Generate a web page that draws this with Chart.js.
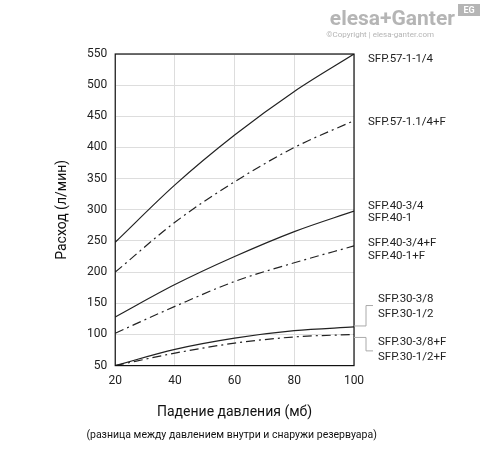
<!DOCTYPE html>
<html>
<head>
<meta charset="utf-8">
<script src="https://cdn.jsdelivr.net/npm/chart.js@4"></script>
<style>
  body { margin: 0; background: #fff; }
  #wrap { width: 488px; height: 454px; }
</style>
</head>
<body>
<div id="wrap"><canvas id="c"></canvas></div>
<script>
// данные графика
const pressure = [20, 40, 60, 80, 100];
const sfp57 = [248, 340, 420, 490, 550];
const sfp57F = [200, 280, 345, 400, 443];
const sfp40 = [128, 180, 225, 265, 298];
const sfp40F = [102, 145, 185, 215, 242];
const sfp30 = [50, 76, 94, 106, 112];
const sfp30F = [50, 70, 86, 96, 100];
const yTicks = [50, 100, 150, 200, 250, 300, 350, 400, 450, 500, 550];

// подписи справа: текст и уровень (в единицах оси Y)
const labelTexts = ['SFP.57-1-1/4', 'SFP.57-1.1/4+F', 'SFP.40-3/4', 'SFP.40-1', 'SFP.40-3/4+F', 'SFP.40-1+F',
  'SFP.30-3/8', 'SFP.30-1/2', 'SFP.30-3/8+F', 'SFP.30-1/2+F'];
const labelLevels = [541, 441, 306, 287, 247, 226, 156, 133, 87, 64];

const FONT = 'Roboto, "Liberation Sans", sans-serif';

function ds(data, dashed) {
  return {
    data: pressure.map((x, i) => ({ x: x, y: data[i] })),
    borderColor: '#222',
    borderWidth: 1.2,
    borderDash: dashed ? [9, 4, 2, 4] : [],
    pointRadius: 0,
    tension: 0.4,
    cubicInterpolationMode: 'monotone',
    fill: false
  };
}

const extras = {
  id: 'extras',
  afterDraw(chart) {
    const ctx = chart.ctx;
    const a = chart.chartArea;
    const ys = chart.scales.y;
    ctx.save();
    // рамка
    ctx.strokeStyle = '#111';
    ctx.lineWidth = 1.2;
    ctx.strokeRect(a.left, a.top, a.right - a.left, a.bottom - a.top);

    // подписи серий
    ctx.fillStyle = '#222';
    ctx.font = '11.5px ' + FONT;
    ctx.textBaseline = 'middle';
    labelTexts.forEach((t, i) => {
      const x = i >= 6 ? a.right + 24 : a.right + 14;
      ctx.fillText(t, x, ys.getPixelForValue(labelLevels[i]));
    });

    // выноски для SFP.30
    ctx.strokeStyle = '#aaa';
    ctx.lineWidth = 1;
    const y1 = ys.getPixelForValue(sfp30[4]);
    const y2 = ys.getPixelForValue(sfp30F[4]);
    const t1 = ys.getPixelForValue(labelLevels[6]);
    const t2 = ys.getPixelForValue(labelLevels[9]);
    ctx.beginPath();
    ctx.moveTo(a.right, y1 - 1); ctx.lineTo(a.right + 12, y1 - 1);
    ctx.lineTo(a.right + 12, t1 + 6); ctx.lineTo(a.right + 19, t1 + 6);
    ctx.moveTo(a.right, y2 + 3); ctx.lineTo(a.right + 12, y2 + 3);
    ctx.lineTo(a.right + 12, t2 - 6); ctx.lineTo(a.right + 19, t2 - 6);
    ctx.stroke();

    // заголовки осей
    ctx.fillStyle = '#111';
    ctx.textAlign = 'center';
    ctx.font = '14px ' + FONT;
    ctx.fillText('Падение давления (мб)', (a.left + a.right) / 2, 412);
    ctx.font = '10.5px ' + FONT;
    ctx.fillText('(разница между давлением внутри и снаружи резервуара)', (a.left + a.right) / 2 - 3, 435);
    ctx.save();
    ctx.translate(62, (a.top + a.bottom) / 2);
    ctx.rotate(-Math.PI / 2);
    ctx.font = '14px ' + FONT;
    ctx.fillText('Расход (л/мин)', 0, 0);
    ctx.restore();

    // логотип
    ctx.textAlign = 'right';
    ctx.fillStyle = '#b5b5b5';
    ctx.font = 'bold 21px ' + FONT;
    ctx.fillText('elesa+Ganter', 455, 20);
    ctx.font = '8px ' + FONT;
    ctx.fillText('©Copyright | elesa-ganter.com', 434, 35);
    ctx.fillRect(458, 4, 22, 12);
    ctx.fillStyle = '#fff';
    ctx.font = 'bold 9px ' + FONT;
    ctx.textAlign = 'center';
    ctx.fillText('EG', 469, 11);
    ctx.restore();
  }
};

new Chart(document.getElementById('c'), {
  type: 'line',
  data: { datasets: [ds(sfp57, false), ds(sfp57F, true), ds(sfp40, false), ds(sfp40F, true), ds(sfp30, false), ds(sfp30F, true)] },
  options: {
    responsive: true,
    maintainAspectRatio: false,
    animation: false,
    layout: { padding: { left: 79, right: 134, top: 54, bottom: 58 } },
    plugins: { legend: { display: false }, tooltip: { enabled: false } },
    scales: {
      x: {
        type: 'linear', min: 20, max: 100,
        afterBuildTicks: s => { s.ticks = pressure.map(v => ({ value: v })); },
        grid: { color: '#ddd', drawTicks: false },
        border: { display: false },
        ticks: { color: '#222', font: { size: 12, family: FONT }, padding: 8 }
      },
      y: {
        min: 50, max: 550,
        afterBuildTicks: s => { s.ticks = yTicks.map(v => ({ value: v })); },
        grid: { color: '#ddd', drawTicks: false },
        border: { display: false },
        ticks: { color: '#222', font: { size: 12, family: FONT }, padding: 8 }
      }
    }
  },
  plugins: [extras]
});
</script>
</body>
</html>
